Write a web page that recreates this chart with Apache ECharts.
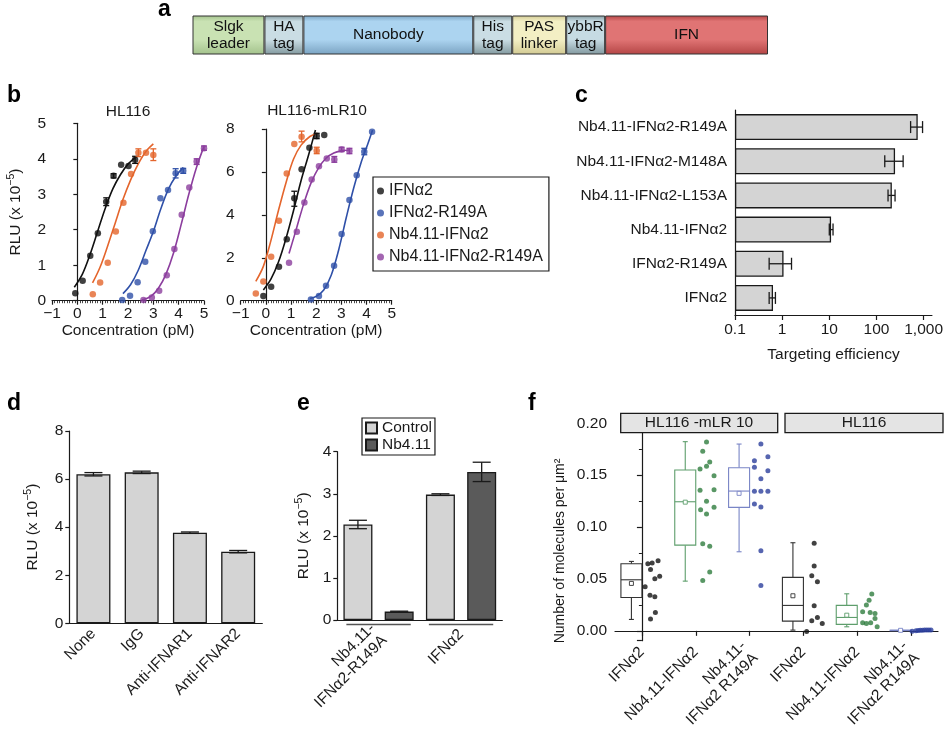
<!DOCTYPE html>
<html>
<head>
<meta charset="utf-8">
<script src="https://cdn.jsdelivr.net/npm/echarts@6/dist/echarts.min.js"></script>
<style>
  html, body { margin: 0; padding: 0; background: #fff; }
  #chart { width: 946px; height: 739px; }
</style>
</head>
<body>
<div id="chart"></div>
<script>
// ---- a: construct layout ----
const segNames = ['Slgk\nleader', 'HA\ntag', 'Nanobody', 'His\ntag', 'PAS\nlinker', 'ybbR\ntag', 'IFN'];
const segLengths = [72, 39, 170, 39, 54, 39, 163];
const segColors = [
  ['#c9e2b3', '#a3c28c'], ['#cadde4', '#82999f'], ['#acd4f0', '#7aa3c2'], ['#cadde4', '#82999f'],
  ['#f3efc4', '#d2ca93'], ['#c6dbe3', '#82999f'], ['#e07474', '#b44545']
];

// ---- b: dose response (log concentration, RLU x 1e-5) ----
const bNames = ['IFNα2', 'IFNα2-R149A', 'Nb4.11-IFNα2', 'Nb4.11-IFNα2-R149A'];
const bColors = ['#111111', '#2f50a8', '#e4652c', '#8c3e9e'];

const hl116_IFNa2 = [[-0.08, 0.21], [0.21, 0.56], [0.51, 1.27], [0.81, 1.90], [1.14, 2.79], [1.43, 3.52], [1.73, 3.83], [2.02, 3.80], [2.28, 3.97]];
const hl116_R149A = [[1.77, 0.02], [2.08, 0.14], [2.38, 0.52], [2.68, 1.10], [2.98, 1.96], [3.28, 2.89], [3.58, 3.12], [3.88, 3.59], [4.18, 3.66]];
const hl116_Nb = [[0.61, 0.18], [0.90, 0.51], [1.20, 1.07], [1.52, 1.95], [1.82, 2.76], [2.12, 3.57], [2.41, 4.17], [2.71, 4.17], [3.00, 4.11]];
const hl116_NbR149A = [[2.61, 0.02], [2.94, 0.09], [3.23, 0.28], [3.53, 0.72], [3.83, 1.46], [4.12, 2.42], [4.42, 3.19], [4.71, 3.92], [5.00, 4.30]];

const hl116_IFNa2_fit = [[-0.12, 0.38], [0.2, 0.75], [0.5, 1.3], [0.8, 1.95], [1.1, 2.6], [1.4, 3.15], [1.7, 3.55], [2.0, 3.85], [2.35, 4.07]];
const hl116_R149A_fit = [[1.8, 0.2], [2.1, 0.45], [2.4, 0.85], [2.7, 1.4], [3.0, 1.95], [3.3, 2.6], [3.6, 3.15], [3.9, 3.52], [4.18, 3.75]];
const hl116_Nb_fit = [[0.6, 0.5], [0.9, 0.95], [1.2, 1.55], [1.5, 2.2], [1.8, 2.85], [2.1, 3.4], [2.4, 3.85], [2.7, 4.2], [3.0, 4.42]];
const hl116_NbR149A_fit = [[2.55, 0.02], [2.9, 0.12], [3.2, 0.35], [3.5, 0.75], [3.8, 1.35], [4.1, 2.15], [4.4, 3.0], [4.7, 3.75], [5.0, 4.35]];

const hl116_IFNa2_err = [[1.14, 2.68, 2.90], [1.43, 3.46, 3.58], [2.28, 3.87, 4.07]];
const hl116_R149A_err = [[3.88, 3.46, 3.72], [4.18, 3.59, 3.73]];
const hl116_Nb_err = [[2.41, 4.06, 4.28], [3.00, 3.95, 4.28]];
const hl116_NbR149A_err = [[4.71, 3.84, 4.00], [5.00, 4.24, 4.36]];

const mlr_IFNa2 = [[-0.10, 0.22], [0.21, 0.65], [0.52, 1.58], [0.83, 2.86], [1.13, 4.77], [1.42, 6.12], [1.73, 7.13], [2.02, 7.67], [2.32, 7.72]];
const mlr_R149A = [[1.79, 0.06], [2.11, 0.22], [2.39, 0.70], [2.71, 1.63], [3.01, 3.11], [3.32, 4.69], [3.61, 5.85], [3.91, 6.94], [4.22, 7.87]];
const mlr_Nb = [[-0.40, 0.34], [-0.10, 0.90], [0.21, 2.05], [0.52, 3.73], [0.83, 5.93], [1.13, 7.30], [1.42, 7.64], [2.02, 6.99]];
const mlr_NbR149A = [[0.92, 1.77], [1.23, 3.21], [1.53, 4.57], [1.82, 5.65], [2.11, 6.27], [2.42, 6.63], [2.72, 6.58], [3.01, 7.05], [3.32, 6.97]];

const mlr_IFNa2_fit = [[-0.1, 0.5], [0.2, 1.0], [0.5, 1.8], [0.8, 2.9], [1.1, 4.2], [1.4, 5.6], [1.7, 6.8], [1.97, 7.95]];
const mlr_R149A_fit = [[1.75, 0.1], [2.0, 0.2], [2.3, 0.5], [2.6, 1.2], [2.9, 2.4], [3.2, 3.9], [3.5, 5.3], [3.8, 6.5], [4.05, 7.3], [4.24, 7.95]];
const mlr_Nb_fit = [[-0.4, 0.9], [-0.1, 1.6], [0.2, 2.8], [0.5, 4.2], [0.8, 5.5], [1.1, 6.6], [1.4, 7.25], [1.75, 7.65], [2.05, 7.8]];
const mlr_NbR149A_fit = [[0.92, 2.2], [1.2, 3.3], [1.5, 4.5], [1.8, 5.5], [2.1, 6.2], [2.4, 6.65], [2.7, 6.88], [3.0, 6.98], [3.32, 7.02]];

const mlr_IFNa2_err = [[1.13, 4.40, 5.10], [2.02, 7.55, 7.80]];
const mlr_R149A_err = [[3.91, 6.80, 7.10]];
const mlr_Nb_err = [[1.42, 7.40, 7.90], [2.02, 6.85, 7.15]];
const mlr_NbR149A_err = [[2.72, 6.45, 6.72], [3.01, 6.95, 7.15], [3.32, 6.85, 7.10]];

// ---- c: targeting efficiency (log axis) ----
const cCats = ['Nb4.11-IFNα2-R149A', 'Nb4.11-IFNα2-M148A', 'Nb4.11-IFNα2-L153A', 'Nb4.11-IFNα2', 'IFNα2-R149A', 'IFNα2'];
const cValues = [750, 248, 212, 10.9, 1.07, 0.64];
const cErrLow = [530, 150, 176, 10, 0.53, 0.53];
const cErrHigh = [950, 368, 248, 12, 1.58, 0.72];
const cTickLabels = ['0.1', '1', '10', '100', '1,000'];

// ---- d: receptor blocking ----
const dCats = ['None', 'IgG', 'Anti-IFNAR1', 'Anti-IFNAR2'];
const dValues = [6.2, 6.28, 3.77, 2.98];
const dErr = [0.07, 0.05, 0.03, 0.05];

// ---- e: Nb4.11 competition ----
const eGroups = ['Nb4.11-\nIFNα2-R149A', 'IFNα2'];
const eControl = [2.27, 2.98];
const eNb = [0.2, 3.52];
const eControlErr = [0.1, 0.02];
const eNbErr = [0.01, 0.23];

// ---- f: molecules per µm2 ----
const fCats = ['IFNα2', 'Nb4.11-IFNα2', 'Nb4.11-\nIFNα2 R149A', 'IFNα2', 'Nb4.11-IFNα2', 'Nb4.11-\nIFNα2 R149A'];
const fColors = ['#111111', '#2f7d3e', '#2c3f9c', '#111111', '#2f7d3e', '#2c3f9c'];
const fBoxColors = ['#333333', '#5e9e6c', '#7985c6', '#333333', '#5e9e6c', '#7985c6'];
// min, q1, median, q3, max, mean
const fBox0 = [0.011, 0.0322, 0.0492, 0.0646, 0.0669, 0.0457];
const fBox1 = [0.0479, 0.0826, 0.1244, 0.155, 0.1823, 0.124];
const fBox2 = [0.0762, 0.119, 0.1347, 0.1572, 0.18, 0.1325];
const fBox3 = [0.0007, 0.0094, 0.0245, 0.0515, 0.0849, 0.0338];
const fBox4 = [0.0039, 0.0062, 0.0129, 0.0245, 0.0357, 0.0151];
const fBox5 = [0.0002, 0.0003, 0.0005, 0.0006, 0.0008, 0.0005];
const fDots0 = [0.0646, 0.0653, 0.0675, 0.0592, 0.0527, 0.0502, 0.0424, 0.0344, 0.0328, 0.0177, 0.0113];
const fJit0 = [0.11, 0.19, 0.30, 0.16, 0.33, 0.24, 0.06, 0.15, 0.24, 0.25, 0.16];
const fDots1 = [0.182, 0.173, 0.1627, 0.1585, 0.156, 0.1495, 0.1354, 0.136, 0.125, 0.1167, 0.1125, 0.119, 0.0839, 0.0814, 0.0566, 0.0486];
const fJit1 = [0.20, 0.13, 0.26, 0.20, 0.08, 0.34, 0.08, 0.34, 0.20, 0.09, 0.20, 0.34, 0.13, 0.26, 0.26, 0.13];
const fDots2 = [0.18, 0.164, 0.1678, 0.1576, 0.1466, 0.1543, 0.1344, 0.1344, 0.1344, 0.1222, 0.1193, 0.0772, 0.0437];
const fJit2 = [0.21, 0.09, 0.34, 0.09, 0.21, 0.34, 0.21, 0.34, 0.09, 0.09, 0.21, 0.21, 0.21];
const fDots3 = [0.0843, 0.0624, 0.053, 0.0473, 0.0241, 0.0097, 0.0129, 0.0071, -0.0006];
const fJit3 = [0.20, 0.20, 0.155, 0.26, 0.20, 0.155, 0.26, 0.35, 0.06];
const fDots4 = [0.0354, 0.0296, 0.0248, 0.0183, 0.0177, 0.0167, 0.0077, 0.0071, 0.0077, 0.012, 0.0039];
const fJit4 = [0.27, 0.22, 0.17, 0.10, 0.24, 0.33, 0.10, 0.17, 0.25, 0.33, 0.37];
const fDots5 = [-0.0004, 0.0002, 0.0003, 0.0005, 0.0006, 0.0007, 0.0008, 0.0007, 0.0008];
const fJit5 = [0.02, 0.09, 0.13, 0.17, 0.21, 0.25, 0.29, 0.33, 0.37];

const FONT = '"Liberation Sans", Arial, sans-serif';
const INK = '#1a1a1a';
const LINE = { color: INK, width: 1.2 };
const LABEL = { color: INK, fontSize: 15.5, fontFamily: FONT };
const RLU_NAME = 'RLU (x 10{sup|−5})';
const RLU_STYLE = {
  color: INK, fontSize: 15.5, fontFamily: FONT, lineHeight: 20,
  rich: { sup: { fontSize: 10.5, fontFamily: FONT, color: INK, verticalAlign: 'top', lineHeight: 12 } }
};

const chart = echarts.init(document.getElementById('chart'));

// vertical error bar: [x, low, high]
function vErr(cap) {
  return function (params, api) {
    const p1 = api.coord([api.value(0), api.value(1)]);
    const p2 = api.coord([api.value(0), api.value(2)]);
    const style = { stroke: api.visual('color'), lineWidth: 1.3 };
    return {
      type: 'group', children: [
        { type: 'line', shape: { x1: p1[0], y1: p1[1], x2: p2[0], y2: p2[1] }, style },
        { type: 'line', shape: { x1: p1[0] - cap, y1: p1[1], x2: p1[0] + cap, y2: p1[1] }, style },
        { type: 'line', shape: { x1: p2[0] - cap, y1: p2[1], x2: p2[0] + cap, y2: p2[1] }, style }
      ]
    };
  };
}
// horizontal error bar: [low, high, y]
function hErr(cap) {
  return function (params, api) {
    const p1 = api.coord([api.value(0), api.value(2)]);
    const p2 = api.coord([api.value(1), api.value(2)]);
    const style = { stroke: api.visual('color'), lineWidth: 1.3 };
    return {
      type: 'group', children: [
        { type: 'line', shape: { x1: p1[0], y1: p1[1], x2: p2[0], y2: p2[1] }, style },
        { type: 'line', shape: { x1: p1[0], y1: p1[1] - cap, x2: p1[0], y2: p1[1] + cap }, style },
        { type: 'line', shape: { x1: p2[0], y1: p2[1] - cap, x2: p2[0], y2: p2[1] + cap }, style }
      ]
    };
  };
}

// panel b series
function doseSeries(ai, pts, fits, errs) {
  const out = [];
  bNames.forEach((n, k) => {
    out.push({
      type: 'line', name: n + ' fit', xAxisIndex: ai, yAxisIndex: ai, data: fits[k], smooth: 0.35,
      showSymbol: false, lineStyle: { color: bColors[k], width: 1.6 }, z: 2
    });
    out.push({
      type: 'scatter', name: n, xAxisIndex: ai, yAxisIndex: ai, data: pts[k], symbolSize: 6.5,
      itemStyle: { color: bColors[k] }, z: 3
    });
    out.push({
      type: 'custom', name: n + ' err', xAxisIndex: ai, yAxisIndex: ai, data: errs[k],
      renderItem: vErr(3), itemStyle: { color: bColors[k] }, z: 3
    });
  });
  return out;
}

function doseX(gi) {
  return {
    type: 'value', gridIndex: gi, min: -1, max: 5, interval: 1,
    axisLine: { show: true, lineStyle: LINE },
    axisTick: { show: true, length: 4, lineStyle: LINE },
    minorTick: { show: true, splitNumber: 10, length: 2.5, lineStyle: { color: INK, width: 0.8 } },
    axisLabel: Object.assign({ margin: 5, formatter: v => v < 0 ? '−' + Math.abs(v) : String(v) }, LABEL),
    splitLine: { show: false },
    name: 'Concentration (pM)', nameLocation: 'middle', nameGap: 20, nameTextStyle: LABEL
  };
}

function plainY(gi, max, interval, extra) {
  return Object.assign({
    type: 'value', gridIndex: gi, min: 0, max: max, interval: interval,
    axisLine: { show: true, lineStyle: LINE },
    axisTick: { show: true, length: 4, lineStyle: LINE },
    axisLabel: Object.assign({ margin: 6 }, LABEL),
    splitLine: { show: false }
  }, extra || {});
}

const series = [];

// a: stacked segments
segNames.forEach((n, i) => {
  series.push({
    type: 'bar', name: n, xAxisIndex: 0, yAxisIndex: 0, stack: 'construct', barWidth: 39,
    data: [segLengths[i]],
    itemStyle: {
      borderColor: '#333', borderWidth: 1,
      color: {
        type: 'linear', x: 0, y: 0, x2: 0, y2: 1,
        colorStops: [
          { offset: 0, color: segColors[i][1] }, { offset: 0.15, color: segColors[i][0] },
          { offset: 0.62, color: segColors[i][0] }, { offset: 1, color: segColors[i][1] }
        ]
      }
    },
    label: { show: true, position: 'inside', formatter: n, color: '#111', fontSize: 15.5, lineHeight: 17, fontFamily: FONT }
  });
});

// b
series.push(...doseSeries(1,
  [hl116_IFNa2, hl116_R149A, hl116_Nb, hl116_NbR149A],
  [hl116_IFNa2_fit, hl116_R149A_fit, hl116_Nb_fit, hl116_NbR149A_fit],
  [hl116_IFNa2_err, hl116_R149A_err, hl116_Nb_err, hl116_NbR149A_err]));
series.push(...doseSeries(2,
  [mlr_IFNa2, mlr_R149A, mlr_Nb, mlr_NbR149A],
  [mlr_IFNa2_fit, mlr_R149A_fit, mlr_Nb_fit, mlr_NbR149A_fit],
  [mlr_IFNa2_err, mlr_R149A_err, mlr_Nb_err, mlr_NbR149A_err]));

// c: log10(value / 0.1) so bars grow from 0.1
const cLog = v => Math.log10(v / 0.1);
series.push({
  type: 'bar', xAxisIndex: 3, yAxisIndex: 3, barWidth: 26,
  data: cValues.map(cLog),
  itemStyle: { color: '#d4d4d4', borderColor: INK, borderWidth: 1.3 }
});
series.push({
  type: 'custom', xAxisIndex: 3, yAxisIndex: 3, renderItem: hErr(6), itemStyle: { color: INK },
  encode: { x: [0, 1], y: 2 },
  data: cCats.map((c, i) => [cLog(cErrLow[i]), cLog(cErrHigh[i]), i]), z: 3
});

// d
series.push({
  type: 'bar', xAxisIndex: 4, yAxisIndex: 4, barWidth: 34, data: dValues,
  itemStyle: { color: '#d4d4d4', borderColor: INK, borderWidth: 1.3 }
});
series.push({
  type: 'custom', xAxisIndex: 4, yAxisIndex: 4, renderItem: vErr(9), itemStyle: { color: INK },
  data: dValues.map((v, i) => [i, v - dErr[i], v + dErr[i]]), z: 3
});

// e: four bar slots on a hidden category axis, two per group
const eSlotCats = [];
const eControlSlots = [];
const eNbSlots = [];
const eErrData = [];
eGroups.forEach((g, i) => {
  eSlotCats.push(g + ' c', g + ' n');
  eControlSlots.push(eControl[i], '-');
  eNbSlots.push('-', eNb[i]);
  eErrData.push([2 * i, eControl[i] - eControlErr[i], eControl[i] + eControlErr[i]]);
  eErrData.push([2 * i + 1, eNb[i] - eNbErr[i], eNb[i] + eNbErr[i]]);
});
series.push({
  type: 'bar', name: 'Control', xAxisIndex: 6, yAxisIndex: 5, stack: 'e', barWidth: 29, data: eControlSlots,
  itemStyle: { color: '#d4d4d4', borderColor: INK, borderWidth: 1.3 }
});
series.push({
  type: 'bar', name: 'Nb4.11', xAxisIndex: 6, yAxisIndex: 5, stack: 'e', barWidth: 29, data: eNbSlots,
  itemStyle: { color: '#5a5a5a', borderColor: INK, borderWidth: 1.3 }
});
series.push({
  type: 'custom', xAxisIndex: 6, yAxisIndex: 5, renderItem: vErr(9), itemStyle: { color: INK },
  data: eErrData, z: 3
});
// group underlines
series.push({
  type: 'custom', xAxisIndex: 5, yAxisIndex: 5, clip: false, itemStyle: { color: '#555' },
  data: eGroups.map((g, i) => [i, 0]),
  renderItem: function (params, api) {
    const c = api.coord([api.value(0), 0]);
    const half = api.size([1, 0])[0] * 0.39;
    return { type: 'line', shape: { x1: c[0] - half, y1: c[1] + 4.5, x2: c[0] + half, y2: c[1] + 4.5 }, style: { stroke: '#555', lineWidth: 1.5 } };
  }
});

// f: boxes (drawn left of each category centre) and jittered points
const fBoxes = [fBox0, fBox1, fBox2, fBox3, fBox4, fBox5];
const fDots = [fDots0, fDots1, fDots2, fDots3, fDots4, fDots5];
const fJit = [fJit0, fJit1, fJit2, fJit3, fJit4, fJit5];
series.push({
  type: 'custom', xAxisIndex: 8, yAxisIndex: 6, clip: false,
  data: fBoxes.map((b, i) => ({ value: [i].concat(b), itemStyle: { color: fBoxColors[i] } })),
  renderItem: function (params, api) {
    const i = api.value(0);
    const x0 = api.coord([i - 0.39, 0])[0];
    const x1 = api.coord([i, 0])[0];
    const cx = (x0 + x1) / 2;
    const y = v => api.coord([i, v])[1];
    const col = api.visual('color');
    const st = { stroke: col, lineWidth: 1.1, fill: null };
    const yMin = y(api.value(1)), yQ1 = y(api.value(2)), yMed = y(api.value(3)), yQ3 = y(api.value(4)), yMax = y(api.value(5)), yMean = y(api.value(6));
    return {
      type: 'group', children: [
        { type: 'line', shape: { x1: cx, y1: yQ3, x2: cx, y2: yMax }, style: st },
        { type: 'line', shape: { x1: cx, y1: yQ1, x2: cx, y2: yMin }, style: st },
        { type: 'line', shape: { x1: cx - 2.5, y1: yMax, x2: cx + 2.5, y2: yMax }, style: st },
        { type: 'line', shape: { x1: cx - 2.5, y1: yMin, x2: cx + 2.5, y2: yMin }, style: st },
        { type: 'rect', shape: { x: x0, y: yQ3, width: x1 - x0, height: Math.max(yQ1 - yQ3, 0.5) }, style: { stroke: col, lineWidth: 1.1, fill: '#fff' } },
        { type: 'line', shape: { x1: x0, y1: yMed, x2: x1, y2: yMed }, style: st },
        { type: 'rect', shape: { x: cx - 2, y: yMean - 2, width: 4, height: 4 }, style: { stroke: col, lineWidth: 0.9, fill: '#fff' } }
      ]
    };
  }
});
const fDotData = [];
fDots.forEach((vals, i) => {
  vals.forEach((v, k) => fDotData.push({ value: [i + fJit[i][k], v], itemStyle: { color: fColors[i] } }));
});
series.push({
  type: 'scatter', xAxisIndex: 8, yAxisIndex: 6, symbolSize: 5, clip: false, data: fDotData, z: 4
});

const option = {
  animation: false,
  backgroundColor: '#fff',
  textStyle: { fontFamily: FONT, color: INK },
  grid: [
    { left: 192.5, top: 15.5, width: 575.5, height: 39 },
    { left: 52, top: 123.3, width: 152, height: 177.4 },
    { left: 240.7, top: 129, width: 151, height: 171.7 },
    { left: 735, top: 110, width: 203, height: 205 },
    { left: 69.3, top: 431, width: 193, height: 192.3 },
    { left: 337.3, top: 451.7, width: 165, height: 168.3 },
    { left: 615, top: 423.3, width: 323, height: 217.4 }
  ],
  legend: [
    {
      data: bNames, left: 373, top: 177, orient: 'vertical', selectedMode: false,
      borderColor: INK, borderWidth: 1.2, padding: [6, 6, 6, 4], itemGap: 6,
      icon: 'circle', itemWidth: 7, itemHeight: 7, textStyle: { fontSize: 16, fontFamily: FONT, color: INK }
    },
    {
      data: ['Control', 'Nb4.11'], left: 362, top: 418, orient: 'vertical', selectedMode: false,
      borderColor: INK, borderWidth: 1.2, padding: [2, 3, 2, 3], itemGap: 1,
      icon: 'rect', itemWidth: 11, itemHeight: 11, textStyle: { fontSize: 15.5, fontFamily: FONT, color: INK }
    }
  ],
  xAxis: [
    { type: 'value', gridIndex: 0, min: 0, max: segLengths.reduce((a, b) => a + b, 0), show: false },
    doseX(1),
    doseX(2),
    {
      type: 'value', gridIndex: 3, min: 0, max: 4.177,
      axisLine: { show: true, lineStyle: LINE },
      axisTick: { show: true, length: 5, lineStyle: LINE, customValues: [0, 1, 2, 3, 4] },
      axisLabel: Object.assign({ margin: 7, customValues: [0, 1, 2, 3, 4], formatter: v => cTickLabels[Math.round(v)] }, LABEL),
      splitLine: { show: false },
      name: 'Targeting efficiency', nameLocation: 'middle', nameGap: 32, nameTextStyle: LABEL
    },
    {
      type: 'category', gridIndex: 4, data: dCats,
      axisLine: { show: true, lineStyle: LINE }, axisTick: { show: false },
      axisLabel: Object.assign({ rotate: 45, interval: 0, margin: 8 }, LABEL)
    },
    {
      type: 'category', gridIndex: 5, data: eGroups,
      axisLine: { show: true, lineStyle: LINE }, axisTick: { show: false },
      axisLabel: Object.assign({ rotate: 45, interval: 0, margin: 12, lineHeight: 17 }, LABEL)
    },
    { type: 'category', gridIndex: 5, data: eSlotCats, show: false },
    {
      type: 'category', gridIndex: 6, data: fCats,
      axisLine: { show: true, lineStyle: LINE },
      axisTick: { show: true, alignWithLabel: true, length: 5, lineStyle: LINE },
      axisLabel: Object.assign({ rotate: 45, interval: 0, margin: 9, lineHeight: 17 }, LABEL)
    },
    { type: 'value', gridIndex: 6, min: -0.5, max: 5.5, show: false }
  ],
  yAxis: [
    { type: 'category', gridIndex: 0, data: ['construct'], show: false },
    plainY(1, 5, 1, { name: RLU_NAME, nameLocation: 'middle', nameGap: 26, nameTextStyle: RLU_STYLE }),
    plainY(2, 8, 2),
    {
      type: 'category', gridIndex: 3, data: cCats, inverse: true,
      axisLine: { show: true, lineStyle: LINE }, axisTick: { show: false },
      axisLabel: Object.assign({ margin: 8 }, LABEL)
    },
    plainY(4, 8, 2, { name: RLU_NAME, nameLocation: 'middle', nameGap: 27, nameTextStyle: RLU_STYLE }),
    plainY(5, 4, 1, { name: RLU_NAME, nameLocation: 'middle', nameGap: 24, nameTextStyle: RLU_STYLE }),
    {
      type: 'value', gridIndex: 6, min: -0.0095, max: 0.2,
      axisLine: { show: true, lineStyle: LINE },
      axisTick: { show: true, length: 5, lineStyle: LINE },
      minorTick: { show: true, splitNumber: 2, length: 3, lineStyle: { color: INK, width: 1 } },
      axisLabel: Object.assign({ margin: 8, formatter: v => v < 0 ? '' : v.toFixed(2) }, LABEL),
      splitLine: { show: false }
    }
  ],
  graphic: [
    { type: 'text', style: { text: 'a', x: 158, y: 10, textVerticalAlign: 'middle', font: 'bold 23px ' + FONT, fill: '#000' } },
    { type: 'text', style: { text: 'b', x: 7, y: 96, textVerticalAlign: 'middle', font: 'bold 23px ' + FONT, fill: '#000' } },
    { type: 'text', style: { text: 'c', x: 575, y: 96, textVerticalAlign: 'middle', font: 'bold 23px ' + FONT, fill: '#000' } },
    { type: 'text', style: { text: 'd', x: 7, y: 404, textVerticalAlign: 'middle', font: 'bold 23px ' + FONT, fill: '#000' } },
    { type: 'text', style: { text: 'e', x: 297, y: 404, textVerticalAlign: 'middle', font: 'bold 23px ' + FONT, fill: '#000' } },
    { type: 'text', style: { text: 'f', x: 528, y: 404, textVerticalAlign: 'middle', font: 'bold 23px ' + FONT, fill: '#000' } },
    { type: 'text', style: { text: 'HL116', x: 128, y: 112, textAlign: 'center', textVerticalAlign: 'middle', font: '15.5px ' + FONT, fill: INK } },
    { type: 'text', style: { text: 'HL116-mLR10', x: 317, y: 111, textAlign: 'center', textVerticalAlign: 'middle', font: '15.5px ' + FONT, fill: INK } },
    { type: 'rect', shape: { x: 620.7, y: 413.3, width: 157, height: 19.4 }, style: { fill: '#e4e4e4', stroke: INK, lineWidth: 1.3 }, z: 10 },
    { type: 'rect', shape: { x: 785, y: 413.3, width: 158, height: 19.4 }, style: { fill: '#e4e4e4', stroke: INK, lineWidth: 1.3 }, z: 10 },
    { type: 'text', style: { text: 'HL116 -mLR 10', x: 699, y: 423, textAlign: 'center', textVerticalAlign: 'middle', font: '15.5px ' + FONT, fill: INK }, z: 11 },
    { type: 'text', style: { text: 'HL116', x: 864, y: 423, textAlign: 'center', textVerticalAlign: 'middle', font: '15.5px ' + FONT, fill: INK }, z: 11 },
    { type: 'text', rotation: Math.PI / 2, x: 560, y: 551, style: { text: 'Number of molecules per μm²', x: 0, y: 0, textAlign: 'center', textVerticalAlign: 'middle', font: '14px ' + FONT, fill: INK } }
  ],
  series: series
};

chart.setOption(option);
</script>
</body>
</html>
